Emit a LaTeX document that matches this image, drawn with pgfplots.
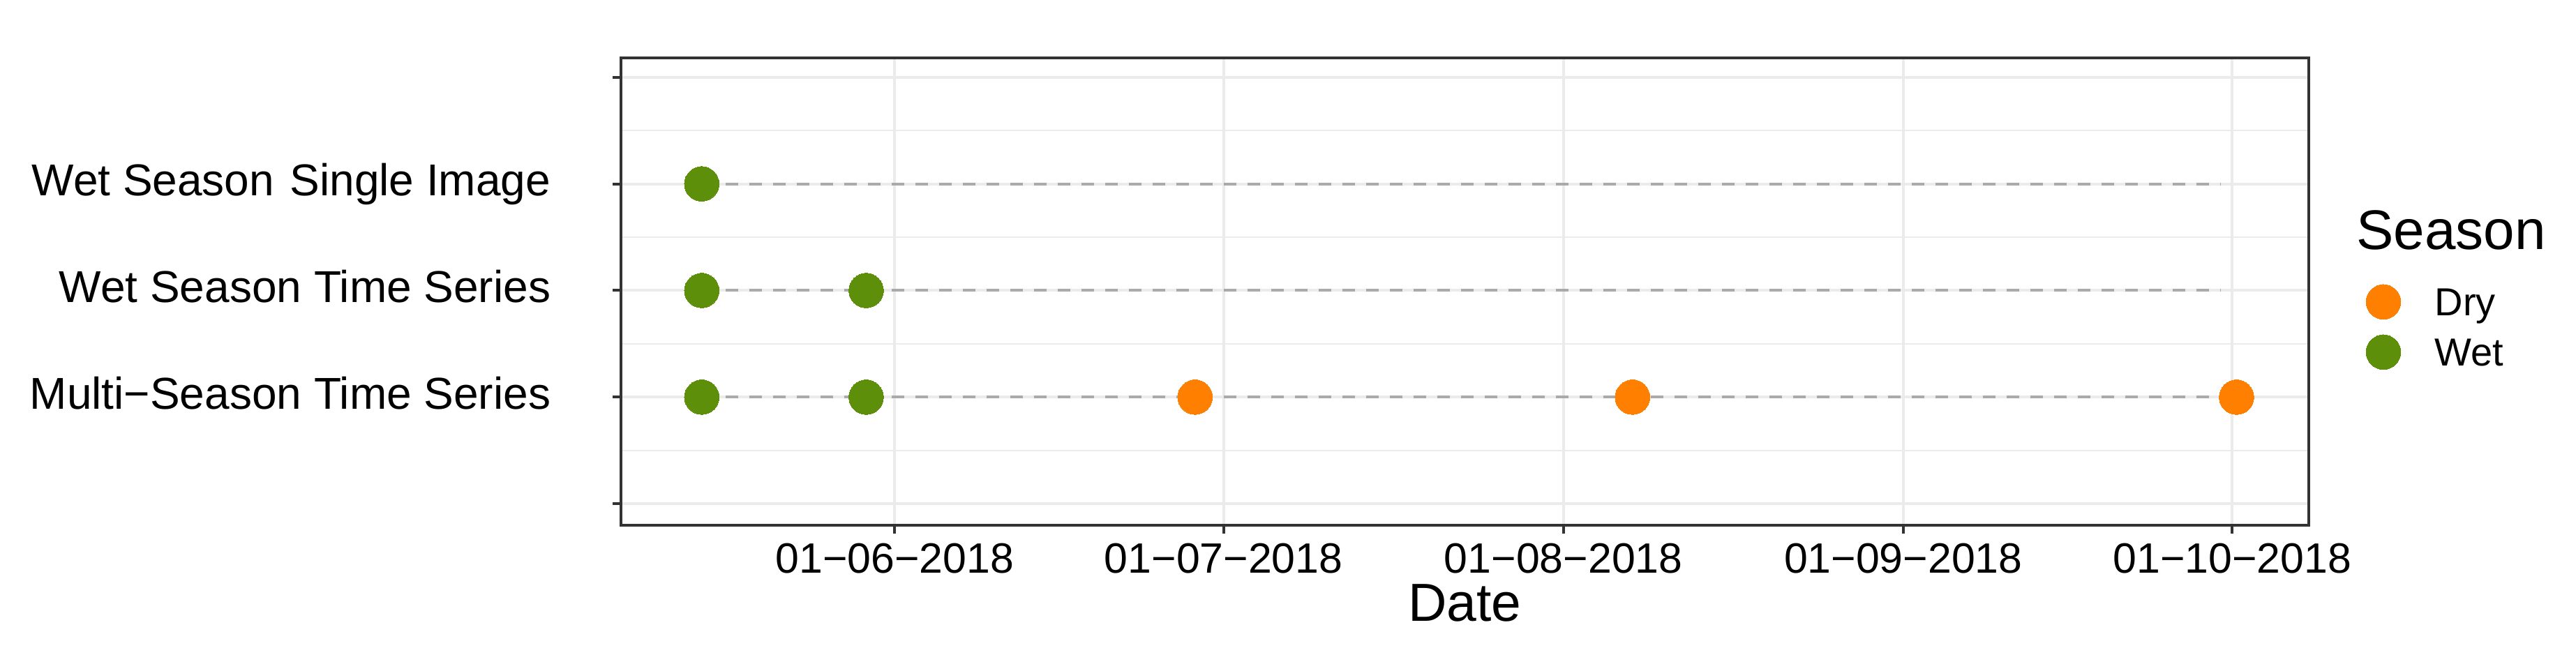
\documentclass[border=0pt]{standalone}
\usepackage{pgfplots}
\pgfplotsset{compat=1.18}
\usepackage{fontspec}
\setmainfont{Liberation Sans}

\definecolor{dryorange}{HTML}{FF7F00}
\definecolor{wetgreen}{HTML}{5E8F0A}
\definecolor{gridgray}{HTML}{EBEBEB}
\definecolor{dashgray}{HTML}{AAAAAA}
\definecolor{framegray}{HTML}{333333}

\begin{document}
\begin{tikzpicture}
\useasboundingbox (-111.25pt,-21.9pt) rectangle (350.25pt,94.1pt);
\begin{axis}[
  at={(0pt,0pt)}, anchor=south west,
  scale only axis, width=302.4pt, height=83.7pt,
  % days counted from 01-06-2018
  xmin=-24.97, xmax=129.0, ymin=0.8, ymax=5.18,
  axis line style={draw=framegray, line width=0.45pt},
  xtick={0,30,61,92,122},
  xticklabels={01−06−2018,01−07−2018,01−08−2018,01−09−2018,01−10−2018},
  ytick={1,2,3,4,5},
  yticklabels={{},Multi−Season Time Series,Wet Season Time Series,Wet Season\hspace{0.35em}Single Image,{}},
  minor ytick={1.5,2.5,3.5,4.5},
  xmajorgrids, ymajorgrids, yminorgrids,
  major grid style={draw=gridgray, line width=0.5pt},
  minor grid style={draw=gridgray, line width=0.25pt},
  tick align=outside, xtick pos=bottom, ytick pos=left,
  major tick length=1.5pt, minor tick length=0pt,
  major tick style={draw=framegray, line width=0.5pt},
  xticklabel style={font=\fontsize{7.6}{8}\selectfont, anchor=base, inner sep=0pt, yshift=-7.1pt},
  yticklabel style={font=\fontsize{8}{9}\selectfont, anchor=base east, inner sep=0pt, xshift=-10.9pt, yshift=-2.1pt},
  xlabel={Date},
  xlabel style={font=\fontsize{9.6}{11}\selectfont, at={(axis description cs:0.5,0)}, anchor=base, inner sep=0pt, yshift=-17.2pt},
  legend cell align=left,
  legend image code/.code={
    \draw[mark repeat=2,mark phase=2,#1] plot coordinates {(0pt,0pt)(3.1pt,0pt)(6.2pt,0pt)};
    \path (12.1pt,0pt);},
  legend style={at={(1.0339,0.515)}, anchor=north west, draw=none, fill=none,
    inner sep=0pt, outer sep=0pt, row sep=2.8pt, column sep=0pt,
    font=\fontsize{7}{8}\selectfont, nodes={inner sep=0pt},
    /tikz/column 2/.style={nodes={text height=5pt, text depth=0pt}}},
]
% dashed guide lines for each product
\addplot[forget plot, draw=dashgray, line width=0.5pt, dash pattern=on 2.25pt off 2pt]
  coordinates {(-17.6,4) (121,4)};
\addplot[forget plot, draw=dashgray, line width=0.5pt, dash pattern=on 2.25pt off 2pt]
  coordinates {(-17.6,3) (121,3)};
\addplot[forget plot, draw=dashgray, line width=0.5pt, dash pattern=on 2.25pt off 2pt]
  coordinates {(-17.6,2) (122.4,2)};

% dry season images
\addplot[only marks, mark=*, mark size=3.1pt, mark options={draw=dryorange, fill=dryorange, line width=0pt}]
  coordinates {(27.4,2) (67.3,2) (122.4,2)};
% wet season images
\addplot[only marks, mark=*, mark size=3.1pt, mark options={draw=wetgreen, fill=wetgreen, line width=0pt}]
  coordinates {(-17.6,4) (-17.6,3) (-2.6,3) (-17.6,2) (-2.6,2)};
\legend{Dry, Wet}
\end{axis}
\node[anchor=base west, inner sep=0pt, font=\fontsize{10}{12}\selectfont] at (310.75pt,49.46pt) {Season};
\end{tikzpicture}
\end{document}
